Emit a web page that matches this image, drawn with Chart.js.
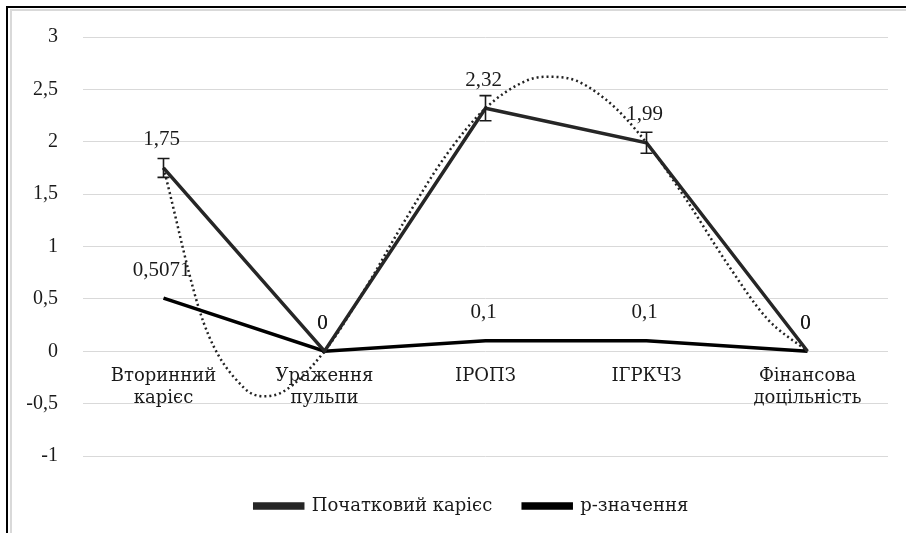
<!DOCTYPE html>
<html>
<head>
<meta charset="utf-8">
<script src="https://cdn.jsdelivr.net/npm/chart.js@4.4.1/dist/chart.umd.min.js"></script>
<style>
  html, body { margin: 0; padding: 0; background: #fff; }
  #wrap { position: absolute; left: 0; top: 0; width: 906px; height: 533px; }
  .frame1 { position: absolute; left: 6px; top: 6px; right: 0; bottom: 0; border-left: 2px solid #000; border-top: 2px solid #000; }
  .frame2 { position: absolute; left: 10px; top: 9px; right: 0; bottom: 0; border-left: 2px solid #d9d9d9; border-top: 2px solid #d9d9d9; }
  #box { position: absolute; left: 0; top: 0; width: 906px; height: 533px; }
  .probe { position: absolute; left: -1000px; top: 0; font-size: 21px; }
</style>
</head>
<body>
<div id="wrap">
  <div class="frame1"></div>
  <div class="frame2"></div>
  <div id="box"><canvas id="c"></canvas></div>
</div>
<div class="probe" style="font-family:'Liberation Serif'">0,5071</div>
<div class="probe" style="font-family:'DejaVu Serif'">Вторинний карієс</div>
<script>
// ---- data ----
const categories = [['Вторинний', 'карієс'], ['Ураження', 'пульпи'], ['ІРОПЗ'], ['ІГРКЧЗ'], ['Фінансова', 'доцільність']];
const seriesNames = ['Початковий карієс', 'р-значення'];
const cariesValues = [1.75, 0, 2.32, 1.99, 0];
const cariesErrors = [0.09, 0, 0.12, 0.1, 0];
const pValues = [0.5071, 0, 0.1, 0.1, 0];
// dotted trend line of "Початковий карієс"
const trendX = [0, 0.25, 0.5, 0.625, 0.75, 1, 1.25, 1.5, 1.75, 2, 2.25, 2.375, 2.5, 2.75, 3, 3.25, 3.5, 3.75, 4];
const trendY = [1.75, 0.27, -0.35, -0.43, -0.38, 0, 0.59, 1.25, 1.86, 2.32, 2.58, 2.62, 2.61, 2.40, 1.99, 1.44, 0.84, 0.31, 0];
const yTicks = [3, 2.5, 2, 1.5, 1, 0.5, 0, -0.5, -1];

const fmt = v => String(v).replace('.', ',');
const numFont = "'Liberation Serif', 'DejaVu Serif', serif";
const txtFont = "'DejaVu Serif', serif";

const errorBars = {
  id: 'errorBars',
  afterDatasetsDraw(chart) {
    const meta = chart.getDatasetMeta(0);
    const ys = chart.scales.y;
    const ctx = chart.ctx;
    ctx.save();
    ctx.strokeStyle = '#1a1a1a';
    ctx.lineWidth = 1.6;
    meta.data.forEach((pt, i) => {
      const e = cariesErrors[i];
      if (!e) return;
      const top = ys.getPixelForValue(cariesValues[i] + e);
      const bot = ys.getPixelForValue(cariesValues[i] - e);
      ctx.beginPath();
      ctx.moveTo(pt.x, top); ctx.lineTo(pt.x, bot);
      ctx.moveTo(pt.x - 6, top); ctx.lineTo(pt.x + 6, top);
      ctx.moveTo(pt.x - 6, bot); ctx.lineTo(pt.x + 6, bot);
      ctx.stroke();
    });
    ctx.restore();
  }
};

const dataLabels = {
  id: 'dataLabels',
  afterDatasetsDraw(chart) {
    const ctx = chart.ctx;
    ctx.save();
    ctx.font = '21px ' + numFont;
    ctx.fillStyle = '#1a1a1a';
    ctx.textAlign = 'center';
    ctx.textBaseline = 'middle';
    [0, 1].forEach(di => {
      const meta = chart.getDatasetMeta(di);
      const vals = di === 0 ? cariesValues : pValues;
      meta.data.forEach((pt, i) => {
        ctx.fillText(fmt(vals[i]), pt.x - 2, pt.y - 28);
      });
    });
    ctx.restore();
  }
};

const legendShift = {
  id: 'legendShift',
  afterLayout(chart) {
    if (chart.legend) { chart.legend.left -= 14; chart.legend.right -= 14; }
  }
};

function draw() {
  new Chart(document.getElementById('c'), {
    type: 'line',
    data: {
      datasets: [
        {
          label: seriesNames[0],
          data: cariesValues.map((v, i) => ({ x: i, y: v })),
          borderColor: '#262626',
          backgroundColor: '#262626',
          borderWidth: 3.5,
          pointRadius: 0,
          tension: 0
        },
        {
          label: seriesNames[1],
          data: pValues.map((v, i) => ({ x: i, y: v })),
          borderColor: '#000000',
          backgroundColor: '#000000',
          borderWidth: 3.5,
          pointRadius: 0,
          tension: 0
        },
        {
          label: 'trend',
          data: trendX.map((x, i) => ({ x: x, y: trendY[i] })),
          borderColor: '#222222',
          borderWidth: 2.5,
          borderDash: [2, 3],
          pointRadius: 0,
          cubicInterpolationMode: 'monotone'
        }
      ]
    },
    options: {
      responsive: true,
      maintainAspectRatio: false,
      animation: false,
      layout: { padding: { top: 26, right: 18, bottom: 8, left: 0 } },
      scales: {
        x: {
          type: 'linear',
          min: -0.5,
          max: 4.5,
          position: { y: 0 },
          afterBuildTicks: s => { s.ticks = categories.map((_, i) => ({ value: i })); },
          grid: { display: false, drawTicks: false },
          border: { display: false },
          ticks: {
            autoSkip: false,
            maxRotation: 0,
            padding: 14,
            color: '#1a1a1a',
            font: { family: txtFont, size: 18, lineHeight: 1.22 },
            callback: v => categories[Math.round(v)]
          }
        },
        y: {
          min: -1,
          max: 3,
          afterBuildTicks: s => { s.ticks = yTicks.map(v => ({ value: v })); },
          afterFit: s => { s.width = 83; },
          grid: { color: '#d9d9d9', lineWidth: 1, drawTicks: false },
          border: { display: false },
          ticks: {
            padding: 25,
            color: '#1a1a1a',
            font: { family: numFont, size: 20 },
            callback: v => fmt(v)
          }
        }
      },
      plugins: {
        legend: {
          position: 'bottom',
          fullSize: false,
          title: { display: true, text: '', padding: { top: 0, bottom: 0 }, font: { size: 10, lineHeight: 1 } },
          labels: {
            boxWidth: 48,
            boxHeight: 4,
            padding: 31,
            color: '#1a1a1a',
            font: { family: txtFont, size: 18 },
            filter: item => item.datasetIndex < 2
          }
        },
        tooltip: { enabled: false }
      }
    },
    plugins: [errorBars, dataLabels, legendShift]
  });
}

if (document.fonts && document.fonts.load) {
  Promise.all([
    document.fonts.load("21px 'Liberation Serif'", '0,5071'),
    document.fonts.load("18px 'DejaVu Serif'", 'Вторинний')
  ]).then(draw, draw);
} else {
  draw();
}
</script>
</body>
</html>
